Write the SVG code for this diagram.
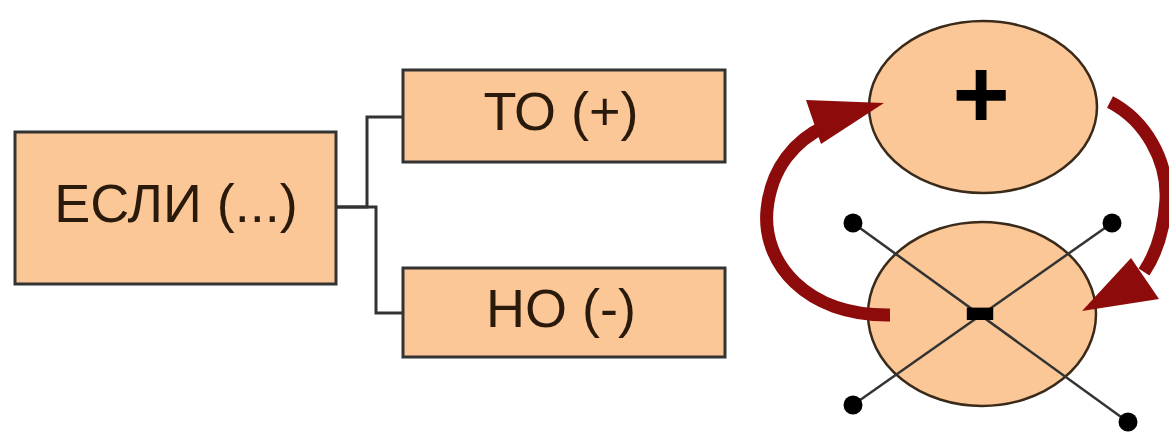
<svg xmlns="http://www.w3.org/2000/svg" width="1169" height="433" viewBox="0 0 1169 433">
  <style>
    .box { fill: #FCC797; stroke: #333; stroke-width: 3; }
    .lbl { font-family: "Liberation Sans", Arial, sans-serif; font-size: 54px; fill: #2a1a0c; text-anchor: middle; }
    .wire { fill: none; stroke: #333; stroke-width: 3; }
    .oval { fill: #FCC797; stroke: #3a2a1a; stroke-width: 2.5; }
    .spoke { stroke: #333; stroke-width: 2.5; }
    .dot { fill: #000; }
    .loop { fill: none; stroke: #8E0B0B; stroke-width: 13; }
    .head { fill: #8E0B0B; }
    .sign { font-family: "Liberation Sans", Arial, sans-serif; fill: #000; text-anchor: middle; font-weight: bold; }
  </style>

  <!-- elbow connectors -->
  <g id="connectors">
    <path class="wire" d="M336,207 H367 V117 H403"/>
    <path class="wire" d="M336,207 H376 V313 H403"/>
  </g>

  <g id="if">
    <rect class="box" x="15" y="132" width="321" height="152"/>
    <text class="lbl" x="176" y="222">ЕСЛИ (...)</text>
  </g>

  <g id="then">
    <rect class="box" x="403" y="70" width="322" height="92"/>
    <text class="lbl" x="561" y="130">ТО (+)</text>
  </g>

  <g id="but">
    <rect class="box" x="403" y="268" width="322" height="89"/>
    <text class="lbl" x="561" y="327">НО (-)</text>
  </g>

  <!-- positive state -->
  <g id="plus">
    <ellipse class="oval" cx="983" cy="107" rx="114" ry="86"/>
    <text class="sign" x="981" y="128" font-size="98">+</text>
  </g>

  <!-- negative state with crossed spokes -->
  <g id="minus">
    <ellipse class="oval" cx="982" cy="314" rx="114" ry="92"/>
    <line class="spoke" x1="853" y1="223" x2="1128" y2="422"/>
    <line class="spoke" x1="1112" y1="223" x2="853" y2="405"/>
    <circle class="dot" cx="853" cy="223" r="9.5"/>
    <circle class="dot" cx="1112" cy="223" r="9.5"/>
    <circle class="dot" cx="853" cy="405" r="9.5"/>
    <circle class="dot" cx="1128" cy="422" r="9.5"/>
    <text class="sign" x="980" y="341" font-size="104">-</text>
  </g>

  <!-- cycle arrows -->
  <g id="cycle">
    <path class="loop" d="M890,315 C805,316 762,262 767,210 C771,168 795,140 826,126"/>
    <polygon class="head" points="884,103 806,100 821,144"/>
    <path class="loop" d="M1110,102 C1145,120 1168,160 1166,200 C1164,232 1156,254 1144,272"/>
    <polygon class="head" points="1082,311 1131,258 1159,299"/>
  </g>
</svg>
